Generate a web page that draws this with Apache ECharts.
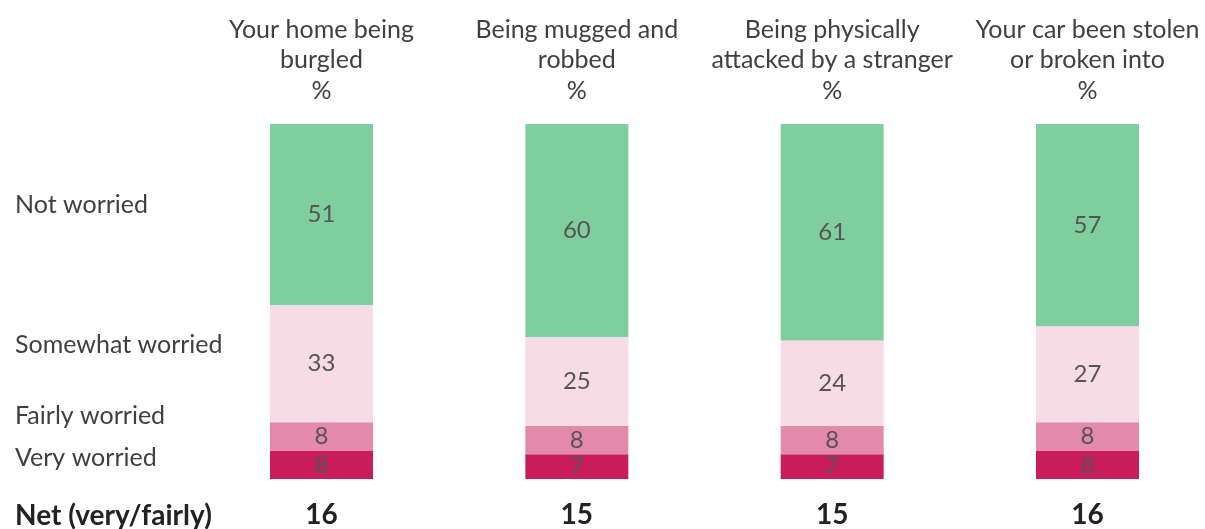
<!DOCTYPE html>
<html>
<head>
<meta charset="utf-8">
<script src="https://cdn.jsdelivr.net/npm/echarts@6/dist/echarts.min.js"></script>
<style>
  html, body { margin: 0; padding: 0; background: #fff; }
  #chart { width: 1205px; height: 529px; }
</style>
</head>
<body>
<div id="chart"></div>
<script>
// Worry about crime, by type of crime (%)
const categories = [
  'Your home being\nburgled\n%',
  'Being mugged and\nrobbed\n%',
  'Being physically\nattacked by a stranger\n%',
  'Your car been stolen\nor broken into\n%'
];
const veryWorried = [8, 7, 7, 8];
const fairlyWorried = [8, 8, 8, 8];
const somewhatWorried = [33, 25, 24, 27];
const notWorried = [51, 60, 61, 57];
const netVeryFairly = [16, 15, 15, 16];

const rowLabels = ['Not worried', 'Somewhat worried', 'Fairly worried', 'Very worried'];
const netLabel = 'Net (very/fairly)';

const FONT = 'Lato, "Open Sans", sans-serif';
const TEXT = '#404040';

function seg(name, data, color) {
  return {
    name, type: 'bar', stack: 'all', data,
    barWidth: 103,
    clip: false,
    itemStyle: { color },
    label: {
      show: true, position: 'inside',
      color: '#555', fontFamily: FONT, fontSize: 24
    }
  };
}

// Row label texts on the left, vertically centred on given y positions
function rowText(text, y, bold) {
  return {
    type: 'text', x: 15, y,
    style: {
      text, fill: bold ? '#222' : TEXT,
      font: (bold ? 'bold 28px ' : '25px ') + FONT,
      verticalAlign: 'middle'
    }
  };
}

const chart = echarts.init(document.getElementById('chart'));
chart.setOption({
  animation: false,
  grid: { left: 321.5, right: 117.5, top: 124, height: 356 },
  xAxis: [
    {
      type: 'category', data: categories, position: 'top', boundaryGap: false,
      axisLine: { show: false }, axisTick: { show: false },
      axisLabel: {
        color: TEXT, fontFamily: FONT, fontSize: 25, lineHeight: 30.5,
        align: 'center', margin: 18, interval: 0
      }
    },
    {
      type: 'category', data: netVeryFairly.map(String), position: 'bottom', boundaryGap: false,
      axisLine: { show: false }, axisTick: { show: false },
      axisLabel: {
        color: '#222', fontFamily: FONT, fontSize: 28, fontWeight: 'bold',
        margin: 22, interval: 0
      }
    }
  ],
  yAxis: { type: 'value', min: 0, max: 100, show: false },
  series: [
    seg('Very worried', veryWorried, '#C91D5A'),
    seg('Fairly worried', fairlyWorried, '#E38AAA'),
    seg('Somewhat worried', somewhatWorried, '#F7DCE6'),
    seg('Not worried', notWorried, '#80CE9E')
  ],
  graphic: [
    rowText(rowLabels[0], 205),
    rowText(rowLabels[1], 345),
    rowText(rowLabels[2], 416),
    rowText(rowLabels[3], 458),
    rowText(netLabel, 516, true)
  ]
});
</script>
</body>
</html>
